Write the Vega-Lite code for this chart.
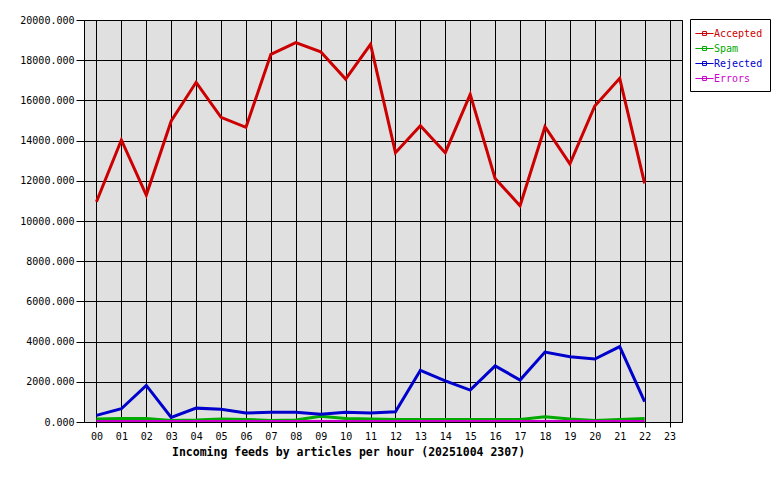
{
  "$schema": "https://vega.github.io/schema/vega-lite/v6.json",
  "width": 598,
  "height": 402,
  "autosize": {"type": "none"},
  "padding": {"left": 84, "top": 20, "right": 98, "bottom": 58},
  "background": "white",
  "config": {
    "view": {"fill": "#e0e0e0", "stroke": "black", "strokeWidth": 1},
    "font": "DejaVu Sans Mono",
    "axis": {
      "labelFont": "DejaVu Sans Mono",
      "labelFontSize": 10,
      "labelColor": "black",
      "gridColor": "black",
      "gridOpacity": 1,
      "gridWidth": 1,
      "tickColor": "black",
      "domainColor": "black"
    }
  },
  "data": {
    "values": [
      {"hour": "00", "series": "Accepted", "value": 10960},
      {"hour": "01", "series": "Accepted", "value": 14030},
      {"hour": "02", "series": "Accepted", "value": 11290},
      {"hour": "03", "series": "Accepted", "value": 14980},
      {"hour": "04", "series": "Accepted", "value": 16900},
      {"hour": "05", "series": "Accepted", "value": 15160},
      {"hour": "06", "series": "Accepted", "value": 14660},
      {"hour": "07", "series": "Accepted", "value": 18290},
      {"hour": "08", "series": "Accepted", "value": 18870},
      {"hour": "09", "series": "Accepted", "value": 18420},
      {"hour": "10", "series": "Accepted", "value": 17060},
      {"hour": "11", "series": "Accepted", "value": 18790},
      {"hour": "12", "series": "Accepted", "value": 13400},
      {"hour": "13", "series": "Accepted", "value": 14740},
      {"hour": "14", "series": "Accepted", "value": 13400},
      {"hour": "15", "series": "Accepted", "value": 16300},
      {"hour": "16", "series": "Accepted", "value": 12120},
      {"hour": "17", "series": "Accepted", "value": 10760},
      {"hour": "18", "series": "Accepted", "value": 14690},
      {"hour": "19", "series": "Accepted", "value": 12840},
      {"hour": "20", "series": "Accepted", "value": 15720},
      {"hour": "21", "series": "Accepted", "value": 17100},
      {"hour": "22", "series": "Accepted", "value": 11870},
      {"hour": "00", "series": "Spam", "value": 150},
      {"hour": "01", "series": "Spam", "value": 180},
      {"hour": "02", "series": "Spam", "value": 180},
      {"hour": "03", "series": "Spam", "value": 80},
      {"hour": "04", "series": "Spam", "value": 100},
      {"hour": "05", "series": "Spam", "value": 150},
      {"hour": "06", "series": "Spam", "value": 130},
      {"hour": "07", "series": "Spam", "value": 80},
      {"hour": "08", "series": "Spam", "value": 100},
      {"hour": "09", "series": "Spam", "value": 280},
      {"hour": "10", "series": "Spam", "value": 170},
      {"hour": "11", "series": "Spam", "value": 150},
      {"hour": "12", "series": "Spam", "value": 130},
      {"hour": "13", "series": "Spam", "value": 130},
      {"hour": "14", "series": "Spam", "value": 130},
      {"hour": "15", "series": "Spam", "value": 130},
      {"hour": "16", "series": "Spam", "value": 130},
      {"hour": "17", "series": "Spam", "value": 130},
      {"hour": "18", "series": "Spam", "value": 260},
      {"hour": "19", "series": "Spam", "value": 150},
      {"hour": "20", "series": "Spam", "value": 80},
      {"hour": "21", "series": "Spam", "value": 130},
      {"hour": "22", "series": "Spam", "value": 180},
      {"hour": "00", "series": "Rejected", "value": 330},
      {"hour": "01", "series": "Rejected", "value": 660},
      {"hour": "02", "series": "Rejected", "value": 1820},
      {"hour": "03", "series": "Rejected", "value": 230},
      {"hour": "04", "series": "Rejected", "value": 690},
      {"hour": "05", "series": "Rejected", "value": 630},
      {"hour": "06", "series": "Rejected", "value": 450},
      {"hour": "07", "series": "Rejected", "value": 490},
      {"hour": "08", "series": "Rejected", "value": 490},
      {"hour": "09", "series": "Rejected", "value": 380},
      {"hour": "10", "series": "Rejected", "value": 480},
      {"hour": "11", "series": "Rejected", "value": 450},
      {"hour": "12", "series": "Rejected", "value": 510},
      {"hour": "13", "series": "Rejected", "value": 2570},
      {"hour": "14", "series": "Rejected", "value": 2050},
      {"hour": "15", "series": "Rejected", "value": 1590},
      {"hour": "16", "series": "Rejected", "value": 2790},
      {"hour": "17", "series": "Rejected", "value": 2090},
      {"hour": "18", "series": "Rejected", "value": 3480},
      {"hour": "19", "series": "Rejected", "value": 3250},
      {"hour": "20", "series": "Rejected", "value": 3130},
      {"hour": "21", "series": "Rejected", "value": 3750},
      {"hour": "22", "series": "Rejected", "value": 1010},
      {"hour": "00", "series": "Errors", "value": 30},
      {"hour": "01", "series": "Errors", "value": 30},
      {"hour": "02", "series": "Errors", "value": 30},
      {"hour": "03", "series": "Errors", "value": 30},
      {"hour": "04", "series": "Errors", "value": 30},
      {"hour": "05", "series": "Errors", "value": 30},
      {"hour": "06", "series": "Errors", "value": 30},
      {"hour": "07", "series": "Errors", "value": 30},
      {"hour": "08", "series": "Errors", "value": 30},
      {"hour": "09", "series": "Errors", "value": 30},
      {"hour": "10", "series": "Errors", "value": 30},
      {"hour": "11", "series": "Errors", "value": 30},
      {"hour": "12", "series": "Errors", "value": 30},
      {"hour": "13", "series": "Errors", "value": 30},
      {"hour": "14", "series": "Errors", "value": 30},
      {"hour": "15", "series": "Errors", "value": 30},
      {"hour": "16", "series": "Errors", "value": 30},
      {"hour": "17", "series": "Errors", "value": 30},
      {"hour": "18", "series": "Errors", "value": 30},
      {"hour": "19", "series": "Errors", "value": 30},
      {"hour": "20", "series": "Errors", "value": 30},
      {"hour": "21", "series": "Errors", "value": 30},
      {"hour": "22", "series": "Errors", "value": 30}
    ]
  },
  "mark": {"type": "line", "strokeWidth": 3, "clip": true, "interpolate": "linear"},
  "encoding": {
    "x": {
      "field": "hour",
      "type": "ordinal",
      "scale": {"type": "point", "padding": 0.5, "domain": ["00","01","02","03","04","05","06","07","08","09","10","11","12","13","14","15","16","17","18","19","20","21","22","23"]},
      "axis": {
        "title": "Incoming feeds by articles per hour (20251004 2307)",
        "titleFont": "DejaVu Sans Mono",
        "titleFontSize": 11.5,
        "titleFontWeight": "bold",
        "titleColor": "black",
        "titleX": 264,
        "titleY": 30,
        "titleAlign": "center",
        "titleBaseline": "middle",
        "labelAngle": 0,
        "labelPadding": 4,
        "tickSize": 5,
        "grid": true,
        "domain": false
      }
    },
    "y": {
      "field": "value",
      "type": "quantitative",
      "scale": {"domain": [0, 20000], "nice": false, "zero": true},
      "axis": {
        "title": null,
        "format": ".3f",
        "values": [0,2000,4000,6000,8000,10000,12000,14000,16000,18000,20000],
        "tickSize": 8,
        "labelPadding": 2,
        "grid": true,
        "domain": false
      }
    },
    "color": {
      "field": "series",
      "type": "nominal",
      "sort": ["Accepted", "Spam", "Rejected", "Errors"],
      "scale": {"domain": ["Accepted", "Spam", "Rejected", "Errors"], "range": ["#cc0000", "#00aa00", "#0000cc", "#cc00cc"]},
      "legend": {
        "title": null,
        "orient": "none",
        "legendX": 606,
        "legendY": -1,
        "fillColor": "white",
        "strokeColor": "black",
        "padding": 7,
        "rowPadding": 2,
        "labelFont": "DejaVu Sans Mono",
        "labelFontSize": 10,
        "labelOffset": 2,
        "labelColor": {"expr": "scale('color', datum.value)"},
        "symbolType": "M-1.3,0L1.3,0M-0.28,-0.28L0.28,-0.28L0.28,0.28L-0.28,0.28Z",
        "symbolSize": 196,
        "symbolStrokeWidth": 1,
        "symbolFillColor": "transparent"
      }
    },
    "order": {"field": "series"},
    "detail": {"field": "series"}
  }
}
